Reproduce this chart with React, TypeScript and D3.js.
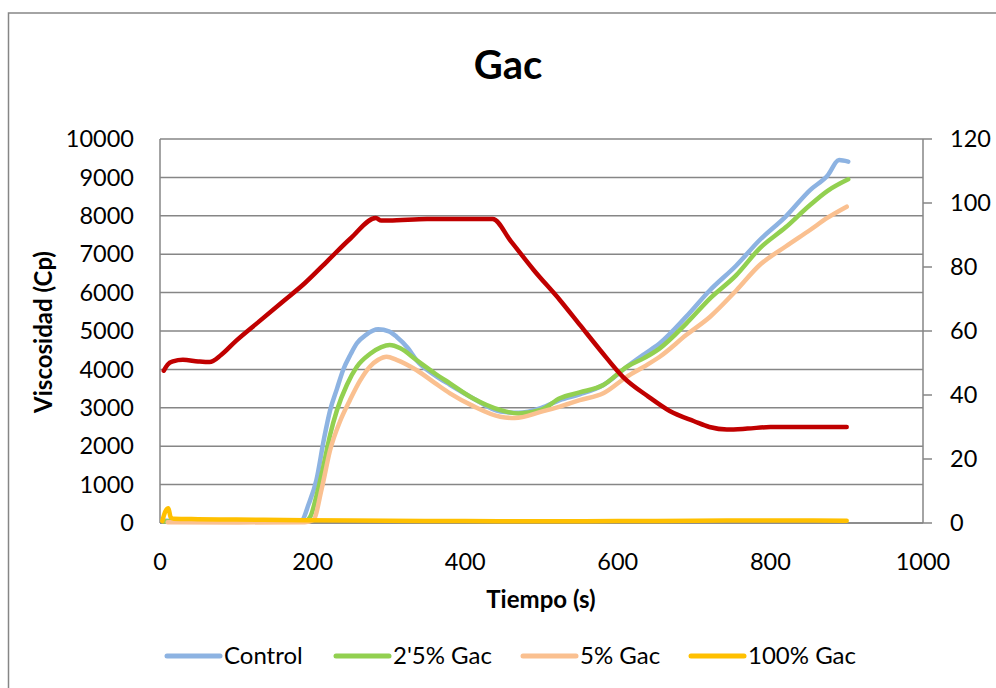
import * as React from 'react'
import * as d3 from 'd3'

const WIDTH = 996
const HEIGHT = 688
const PLOT_LEFT = 160
const PLOT_RIGHT = 923
const PLOT_TOP = 139
const PLOT_BOTTOM = 523
const FONT = "Lato, 'Open Sans', sans-serif"

// Viscosity series (left axis)
const controlTime = [5, 50, 100, 150, 185, 195, 205, 215, 223, 232, 240, 250, 258, 270, 286, 300, 310, 325, 336, 360, 380, 410, 446, 470, 500, 524, 550, 581, 612, 635, 655, 690, 721, 755, 786, 820, 852, 875, 890, 902]
const controlValues = [60, 50, 45, 40, 60, 500, 1120, 2200, 2940, 3500, 3985, 4400, 4680, 4900, 5044, 4990, 4852, 4550, 4245, 3850, 3600, 3250, 2900, 2870, 3000, 3200, 3350, 3594, 4070, 4400, 4680, 5380, 6067, 6700, 7370, 7980, 8671, 9050, 9450, 9409]

const gac25Time = [5, 100, 190, 197, 205, 214, 223, 232, 245, 258, 275, 290, 301, 315, 336, 360, 380, 410, 446, 470, 500, 524, 550, 581, 612, 635, 655, 690, 721, 755, 786, 820, 852, 875, 902]
const gac25Values = [40, 40, 40, 164, 700, 1466, 2300, 2943, 3600, 4070, 4400, 4580, 4635, 4550, 4245, 3900, 3637, 3250, 2943, 2850, 2950, 3247, 3400, 3594, 4070, 4300, 4548, 5200, 5851, 6450, 7153, 7700, 8281, 8650, 8950]

const gac5Time = [10, 100, 190, 201, 212, 223, 236, 249, 262, 275, 286, 297, 310, 336, 360, 380, 410, 446, 465, 500, 524, 550, 581, 612, 635, 655, 690, 721, 755, 786, 820, 852, 875, 900]
const gac5Values = [20, 15, 20, 78, 900, 1900, 2650, 3203, 3700, 4070, 4250, 4330, 4250, 3984, 3650, 3377, 3050, 2768, 2734, 2900, 3030, 3200, 3377, 3810, 4080, 4330, 4900, 5372, 6050, 6718, 7200, 7630, 7950, 8237]

const gac100Time = [3, 7, 11, 14, 18, 50, 100, 190, 300, 400, 500, 600, 700, 800, 900]
const gac100Values = [50, 300, 383, 150, 110, 100, 90, 70, 60, 50, 45, 50, 60, 65, 60]

// Temperature (right axis)
const tempTime = [5, 10, 17, 30, 50, 65, 80, 100, 130, 160, 190, 220, 250, 283, 290, 300, 350, 400, 436, 460, 490, 524, 550, 577, 607, 640, 668, 700, 720, 743, 770, 800, 850, 900]
const tempValues = [47.6, 49.5, 50.5, 51, 50.5, 50.3, 52.5, 57, 63, 69, 75, 82, 89, 95.3, 94.5, 94.5, 95, 95, 95, 88, 79, 69.7, 62, 54, 45.6, 39.5, 35, 31.8, 30, 29.2, 29.5, 30, 30, 30]

const xTicks = [0, 200, 400, 600, 800, 1000]
const leftTicks = [0, 1000, 2000, 3000, 4000, 5000, 6000, 7000, 8000, 9000, 10000]
const rightTicks = [0, 20, 40, 60, 80, 100, 120]

const seriesNames = ['Control', "2'5% Gac", '5% Gac', '100% Gac']
const seriesColors = ['#8DB3E2', '#92D050', '#FAC090', '#FFC000']
const legendX = [167, 336, 523, 691]
const TEMP_COLOR = '#C00000'

export default function App() {
  const x = d3.scaleLinear().domain([0, 1000]).range([PLOT_LEFT, PLOT_RIGHT])
  const yLeft = d3.scaleLinear().domain([0, 10000]).range([PLOT_BOTTOM, PLOT_TOP])
  const yRight = d3.scaleLinear().domain([0, 120]).range([PLOT_BOTTOM, PLOT_TOP])

  const makeLine = (ys: d3.ScaleLinear<number, number>) =>
    d3
      .line<[number, number]>()
      .x(d => x(d[0]))
      .y(d => ys(d[1]))
      .curve(d3.curveMonotoneX)

  const zip = (ts: number[], vs: number[]) =>
    ts.map((t, i) => [t, vs[i]] as [number, number])

  const viscSeries = [
    zip(controlTime, controlValues),
    zip(gac25Time, gac25Values),
    zip(gac5Time, gac5Values),
    zip(gac100Time, gac100Values)
  ]
  const tempSeries = zip(tempTime, tempValues)

  const leftLine = makeLine(yLeft)
  const rightLine = makeLine(yRight)

  return (
    <svg
      width={WIDTH}
      height={HEIGHT}
      style={{ position: 'absolute', left: 0, top: 0, background: '#fff' }}
      fontFamily={FONT}
    >
      <rect x={8.5} y={13} width={1100} height={800} fill="#fff" stroke="#868686" strokeWidth={1.5} />
      <text x={508} y={79} textAnchor="middle" fontSize={40} fontWeight="bold" fill="#000">
        Gac
      </text>

      {/* gridlines */}
      {leftTicks.map(t => (
        <line key={'g' + t} x1={PLOT_LEFT} x2={PLOT_RIGHT} y1={yLeft(t)} y2={yLeft(t)} stroke="#868686" strokeWidth={1.5} />
      ))}
      {/* axes lines */}
      <line x1={PLOT_LEFT} x2={PLOT_LEFT} y1={PLOT_TOP} y2={PLOT_BOTTOM} stroke="#868686" strokeWidth={1.5} />
      <line x1={PLOT_RIGHT} x2={PLOT_RIGHT} y1={PLOT_TOP} y2={PLOT_BOTTOM} stroke="#868686" strokeWidth={1.5} />
      <line x1={PLOT_LEFT} x2={PLOT_RIGHT} y1={PLOT_BOTTOM} y2={PLOT_BOTTOM} stroke="#868686" strokeWidth={1.5} />
      {rightTicks.map(t => (
        <line key={'rt' + t} x1={PLOT_RIGHT} x2={PLOT_RIGHT + 9} y1={yRight(t)} y2={yRight(t)} stroke="#868686" strokeWidth={1.5} />
      ))}

      {/* tick labels */}
      {leftTicks.map(t => (
        <text key={'l' + t} x={134} y={yLeft(t)} dy="0.35em" textAnchor="end" fontSize={23.5} fill="#000">
          {t}
        </text>
      ))}
      {rightTicks.map(t => (
        <text key={'r' + t} x={950} y={yRight(t)} dy="0.35em" textAnchor="start" fontSize={23.5} fill="#000">
          {t}
        </text>
      ))}
      {xTicks.map(t => (
        <text key={'x' + t} x={x(t)} y={562} dy="0.35em" textAnchor="middle" fontSize={23.5} fill="#000">
          {t}
        </text>
      ))}

      {/* axis titles */}
      <text
        transform={`translate(52,332) rotate(-90)`}
        textAnchor="middle"
        fontSize={24}
        fontWeight="bold"
        fill="#000"
      >
        Viscosidad (Cp)
      </text>
      <text x={541} y={600} dy="0.35em" textAnchor="middle" fontSize={24} fontWeight="bold" fill="#000">
        Tiempo (s)
      </text>

      {/* series */}
      {viscSeries.map((s, i) => (
        <path
          key={'s' + i}
          d={leftLine(s) || ''}
          fill="none"
          stroke={seriesColors[i]}
          strokeWidth={4.5}
          strokeLinejoin="round"
          strokeLinecap="round"
        />
      ))}
      <path
        d={rightLine(tempSeries) || ''}
        fill="none"
        stroke={TEMP_COLOR}
        strokeWidth={4.5}
        strokeLinejoin="round"
        strokeLinecap="round"
      />

      {/* legend */}
      {seriesNames.map((name, i) => (
        <g key={'lg' + i}>
          <line
            x1={legendX[i]}
            x2={legendX[i] + 53}
            y1={656}
            y2={656}
            stroke={seriesColors[i]}
            strokeWidth={5}
            strokeLinecap="round"
          />
          <text x={legendX[i] + 57} y={656} dy="0.35em" fontSize={24} fill="#000">
            {name}
          </text>
        </g>
      ))}
    </svg>
  )
}
